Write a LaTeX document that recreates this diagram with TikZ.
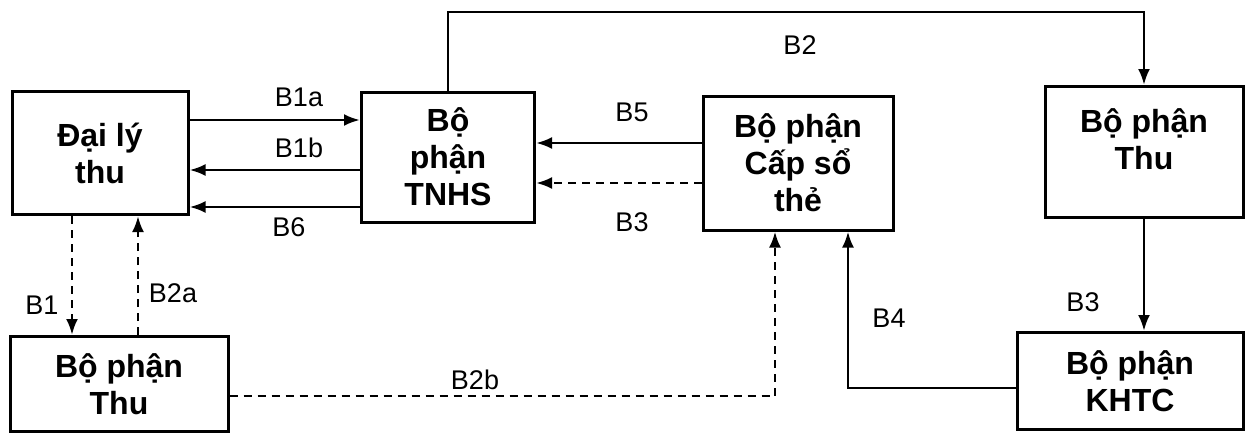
\documentclass[tikz,border=0pt]{standalone}
\usepackage{fontspec}
\setmainfont{Liberation Sans}
\usetikzlibrary{arrows.meta}

\tikzset{
  box/.style={draw, line width=3pt, align=center, inner sep=0pt,
    font=\fontsize{32}{37}\selectfont\bfseries},
  lbl/.style={font=\fontsize{27}{30}\selectfont},
  arr/.style={line width=2.8pt, -{Latex[length=16pt,width=12pt]}},
  darr/.style={arr, dash pattern=on 8pt off 6pt},
}

\begin{document}
\begin{tikzpicture}[x=1pt, y=-1pt]
\useasboundingbox (0,0) rectangle (1259,434);

% Boxes
\node[box, minimum width=176pt, minimum height=123pt] (daily) at (100,153) {Đại lý\\thu};
\node[box, minimum width=173pt, minimum height=130pt] (tnhs) at (448,157) {Bộ\\phận\\TNHS};
\node[box, minimum width=190pt, minimum height=134pt] (cap) at (798,163) {Bộ phận\\Cấp sổ\\thẻ};
\node[box, minimum width=198pt, minimum height=131pt, text depth=26pt] (thuR) at (1144,152) {Bộ phận\\Thu};
\node[box, minimum width=218pt, minimum height=95pt] (thuB) at (119,384) {Bộ phận\\Thu};
\node[box, minimum width=226pt, minimum height=97pt] (khtc) at (1130,381) {Bộ phận\\KHTC};

% Solid arrows
\draw[arr] (daily.east |- 0,120) -- (tnhs.west |- 0,120);
\draw[arr] (tnhs.west |- 0,170) -- (daily.east |- 0,170);
\draw[arr] (tnhs.west |- 0,207) -- (daily.east |- 0,207);
\draw[arr] (cap.west |- 0,143) -- (tnhs.east |- 0,143);
\draw[arr] (tnhs.north) -- (tnhs.north |- 0,12) -| (thuR.north);
\draw[arr] (thuR.south) -- (thuR.south |- khtc.north);
\draw[arr] (khtc.west |- 0,388) -| (cap.south -| 848,0);

% Dashed arrows
\draw[darr] (cap.west |- 0,183) -- (tnhs.east |- 0,183);
\draw[darr] (thuB.east |- 0,396) -| (cap.south -| 775,0);
\draw[darr] (daily.south -| 72,0) -- (thuB.north -| 72,0);
\draw[darr] (thuB.north -| 138,0) -- (daily.south -| 138,0);

% Labels
\node[lbl] (lB1a) at (299,97) {B1a};
\node[lbl] (lB1b) at (299,148) {B1b};
\node[lbl] (lB6) at (289,227) {B6};
\node[lbl] (lB5) at (632,112) {B5};
\node[lbl] (lB3a) at (632,222) {B3};
\node[lbl] (lB2) at (800,45) {B2};
\node[lbl] (lB3b) at (1083,302) {B3};
\node[lbl] (lB4) at (889,318) {B4};
\node[lbl] (lB2b) at (475,380) {B2b};
\node[lbl] (lB1) at (42,305) {B1};
\node[lbl] (lB2a) at (173,293) {B2a};

\end{tikzpicture}
\end{document}
